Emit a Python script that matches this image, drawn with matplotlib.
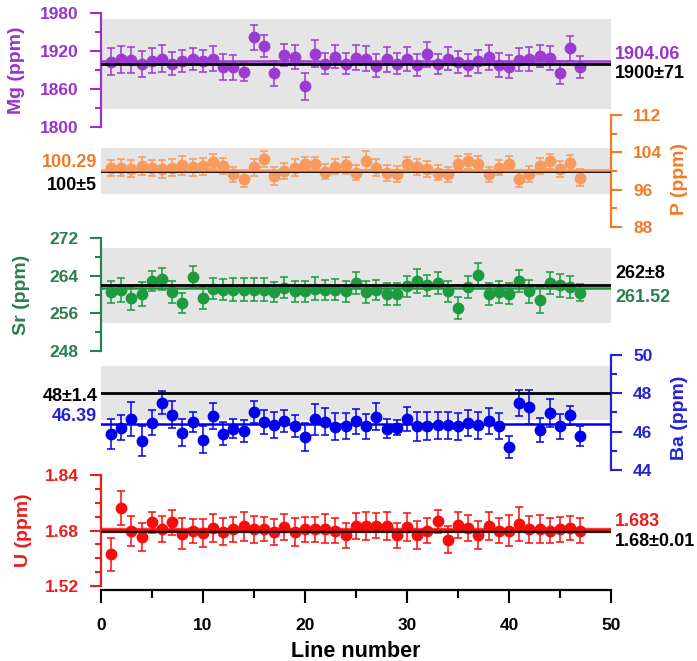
import numpy as np
import matplotlib
matplotlib.use('Agg')
import matplotlib.pyplot as plt

plt.rcParams['font.family'] = ['Liberation Sans', 'DejaVu Sans']
plt.rcParams['font.weight'] = 'bold'

# ---- data ----
line_no = list(range(1, 48))

mg = [1903, 1907, 1906, 1899.5, 1905, 1908, 1900, 1904, 1907, 1904,
      1908, 1895, 1894, 1887, 1941.5, 1928, 1885, 1914, 1911, 1864,
      1916, 1900, 1911, 1900, 1909.5, 1908, 1897, 1907, 1900, 1907,
      1898, 1915, 1899, 1908, 1903, 1898, 1904, 1910, 1898, 1895,
      1906, 1908, 1912, 1909.5, 1886, 1924, 1895]
mg_err = [21, 21, 20, 20, 19, 21, 18, 17, 17, 17,
          20, 20, 19, 14, 20, 18, 20, 17, 19, 21,
          21, 17, 18, 17, 20, 20, 18, 20, 17, 19,
          18, 20, 16, 18, 17, 18, 18, 20, 19, 18,
          18, 19, 18, 19, 18, 20, 17]

p = [100.7, 100.7, 100.5, 101.0, 100.7, 100.5, 100.7, 101.2, 100.8, 101.0,
     102.0, 101.0, 99.3, 98.3, 100.8, 102.5, 99.0, 100.0, 100.7, 101.4,
     101.4, 99.8, 100.9, 101.2, 99.6, 102.2, 100.7, 99.6, 99.3, 101.4,
     100.8, 100.5, 99.6, 99.3, 101.5, 102.1, 101.5, 99.3, 100.7, 101.6,
     98.3, 99.3, 101.0, 102.1, 100.5, 101.7, 98.6]
p_err = [1.7, 1.8, 1.8, 1.9, 1.7, 1.9, 1.8, 2.0, 1.8, 1.8,
         1.6, 1.7, 1.6, 1.7, 1.8, 1.7, 1.9, 1.7, 1.8, 1.6,
         1.7, 1.6, 1.6, 1.8, 1.6, 2.0, 1.8, 1.7, 1.7, 1.6,
         1.7, 1.7, 1.6, 1.6, 1.8, 1.6, 1.7, 1.6, 1.6, 1.6,
         1.7, 1.7, 1.7, 1.6, 1.7, 1.7, 1.8]

sr = [260.6, 261.0, 259.2, 260.2, 262.9, 263.4, 260.6, 258.3, 263.8, 259.3,
      261.3, 261.1, 261.1, 261.1, 261.1, 261.1, 260.6, 261.5, 260.7, 260.7,
      261.3, 261.0, 261.1, 260.7, 262.5, 260.6, 261.0, 260.2, 260.2, 261.8,
      262.9, 262.0, 262.5, 260.7, 257.2, 261.7, 264.3, 260.2, 260.6, 260.2,
      262.9, 260.7, 258.8, 262.5, 262.0, 261.7, 260.4]
sr_err = [2.4, 2.6, 2.5, 2.6, 2.1, 2.3, 2.3, 2.1, 2.3, 2.3,
          2.3, 2.3, 2.4, 2.4, 2.4, 2.4, 2.2, 2.2, 2.2, 2.2,
          2.4, 2.1, 2.3, 2.2, 2.3, 2.3, 2.2, 2.3, 2.3, 2.2,
          2.6, 2.3, 2.3, 2.2, 2.3, 2.4, 2.5, 2.4, 2.3, 2.2,
          2.3, 2.5, 2.8, 2.3, 2.5, 2.4, 1.8]

ba = [45.87, 46.21, 46.65, 45.52, 46.46, 47.50, 46.89, 45.95, 46.51, 45.59,
      46.80, 45.90, 46.16, 46.02, 47.03, 46.51, 46.33, 46.56, 46.30, 45.73,
      46.65, 46.51, 46.25, 46.30, 46.54, 46.28, 46.77, 46.16, 46.21, 46.65,
      46.28, 46.30, 46.33, 46.33, 46.28, 46.46, 46.33, 46.56, 46.30, 45.21,
      47.50, 47.29, 46.07, 46.99, 46.28, 46.86, 45.78]
ba_err = [0.78, 0.66, 0.88, 0.80, 0.66, 0.60, 0.70, 0.70, 0.52, 0.72,
          0.68, 0.62, 0.50, 0.58, 0.56, 0.62, 0.68, 0.56, 0.56, 0.72,
          0.80, 0.70, 0.70, 0.66, 0.66, 0.66, 0.70, 0.50, 0.40, 0.62,
          0.75, 0.72, 0.72, 0.72, 0.70, 0.68, 0.72, 0.68, 0.68, 0.58,
          0.66, 0.90, 0.62, 0.74, 0.64, 0.50, 0.52]

u = [1.611, 1.745, 1.678, 1.661, 1.704, 1.685, 1.704, 1.671, 1.678, 1.673,
     1.688, 1.677, 1.683, 1.692, 1.683, 1.685, 1.675, 1.690, 1.675, 1.683,
     1.683, 1.685, 1.680, 1.666, 1.693, 1.694, 1.694, 1.694, 1.666, 1.690,
     1.666, 1.680, 1.707, 1.654, 1.696, 1.688, 1.668, 1.694, 1.680, 1.680,
     1.699, 1.683, 1.685, 1.680, 1.683, 1.687, 1.680]
u_err = [0.047, 0.048, 0.043, 0.040, 0.030, 0.037, 0.036, 0.044, 0.035, 0.040,
         0.040, 0.038, 0.037, 0.042, 0.040, 0.035, 0.038, 0.037, 0.040, 0.036,
         0.036, 0.042, 0.036, 0.036, 0.037, 0.040, 0.037, 0.040, 0.036, 0.040,
         0.040, 0.035, 0.033, 0.038, 0.037, 0.038, 0.040, 0.040, 0.036, 0.046,
         0.050, 0.040, 0.040, 0.036, 0.035, 0.035, 0.036]

# reference value, uncertainty and measured mean per element
refs = {'Mg': (1900, 71, 1904.06), 'P': (100, 5, 100.29), 'Sr': (262, 8, 261.52),
        'Ba': (48, 1.4, 46.39), 'U': (1.68, 0.01, 1.683)}

mg_ticks = [1800, 1860, 1920, 1980]
p_ticks = [88, 96, 104, 112]
sr_ticks = [248, 256, 264, 272]
ba_ticks = [44, 46, 48, 50]
u_ticks = [1.52, 1.68, 1.84]
x_ticks = [0, 10, 20, 30, 40, 50]

# ---- layout (pixels of the 697x661 picture) ----
W, H = 697, 661
X0, X1 = 100.8, 611.0

fig = plt.figure(figsize=(W / 100, H / 100), dpi=100)

panels = [
    # name, values, errors, ylim, px bottom, px top, side, ticks, minor step, axis colour, point colour, fmt, label x px, label y
    ('Mg', mg, mg_err, (1800, 1980), 127, 13, 'left', mg_ticks, 30, '#9933CC', '#9B3BD3', '%d', 17, 0.5),
    ('P', p, p_err, (88, 112), 227, 115, 'right', p_ticks, 4, '#F07A28', '#F99A5C', '%d', 679, 0.43),
    ('Sr', sr, sr_err, (248, 272), 351, 238.5, 'left', sr_ticks, 4, '#2E7D4F', '#1C9A3E', '%d', 21, 0.5),
    ('Ba', ba, ba_err, (44, 50), 470, 355, 'right', ba_ticks, 1, '#2222D8', '#0000EE', '%d', 679, 0.45),
    ('U', u, u_err, (1.52, 1.84), 586, 475, 'left', u_ticks, 0.04, '#EE1C1C', '#FF0A0A', '%.2f', 24, 0.5),
]

# annotation texts: (text, colour is axis colour or black, side, y value)
notes = {
    'Mg': [('1904.06', True, 'right', 1915), ('1900±71', False, 'right', 1884)],
    'P': [('100.29', True, 'left', 101.8), ('100±5', False, 'left', 97.0)],
    'Sr': [('262±8', False, 'right', 264.6), ('261.52', True, 'right', 259.5)],
    'Ba': [('48±1.4', False, 'left', 47.85), ('46.39', True, 'left', 46.8)],
    'U': [('1.683', True, 'right', 1.707), ('1.68±0.01', False, 'right', 1.648)],
}

axes = []
for (name, vals, errs, ylim, pb, pt, side, ticks, minor, acol, pcol, fmt, lab_x, lab_y) in panels:
    ax = fig.add_axes([X0 / W, 1 - pb / H, (X1 - X0) / W, (pb - pt) / H])
    ax.patch.set_alpha(0)
    ax.set_xlim(0, 50)
    ax.set_ylim(*ylim)

    ref, unc, mean = refs[name]
    ax.axhspan(ref - unc, ref + unc, color='#E5E5E5', zorder=0, lw=0)
    ax.errorbar(line_no, vals, yerr=errs, fmt='o', ms=7.5, color=pcol, ecolor=pcol,
                elinewidth=1.1, capsize=3, capthick=1.1, zorder=2)
    ax.axhline(ref, color='black', lw=2, zorder=3)
    ax.axhline(mean, color=pcol, lw=1.8, zorder=3)

    for s in ['top', 'bottom', 'left', 'right']:
        ax.spines[s].set_visible(False)
    ax.spines[side].set_visible(True)
    ax.spines[side].set_color(acol)
    ax.spines[side].set_linewidth(1.6)

    ax.set_yticks(ticks)
    ax.set_yticks(np.arange(ylim[0], ylim[1] + minor / 2, minor), minor=True)
    ax.set_yticklabels([fmt % t for t in ticks])
    ax.yaxis.set_ticks_position(side)
    ax.tick_params(axis='y', which='both', direction='out', colors=acol, width=1.5,
                   labelsize=12.5, labelcolor=acol)
    ax.tick_params(axis='y', which='major', length=8, pad=8)
    ax.tick_params(axis='y', which='minor', length=4.5)

    ax.yaxis.set_label_position(side)
    ax.set_ylabel(name + ' (ppm)', color=acol, fontsize=14, fontweight='bold')
    ax.yaxis.label.set_verticalalignment('center')
    ax.yaxis.set_label_coords((lab_x - X0) / (X1 - X0), lab_y)

    for txt, own, tside, ty in notes[name]:
        c = acol if own else 'black'
        if tside == 'right':
            ax.text(50.4, ty, txt, color=c, fontsize=13, ha='left', va='center', clip_on=False)
        else:
            ax.text(-0.35, ty, txt, color=c, fontsize=13, ha='right', va='center', clip_on=False)

    if name != 'U':
        ax.xaxis.set_visible(False)
    axes.append(ax)

# x axis on the bottom panel
axb = axes[-1]
axb.spines['bottom'].set_visible(True)
axb.spines['bottom'].set_color('black')
axb.spines['bottom'].set_linewidth(1.6)
axb.spines['bottom'].set_position(('outward', 3))
axb.set_xticks(x_ticks)
axb.set_xticks(np.arange(5, 50, 10), minor=True)
axb.tick_params(axis='x', which='both', direction='out', width=1.5, labelsize=12.5, pad=11)
axb.tick_params(axis='x', which='major', length=9)
axb.tick_params(axis='x', which='minor', length=5.5)
axb.set_xlabel('Line number', fontsize=15.5, fontweight='bold', labelpad=6)

fig.savefig('out.png', dpi=100)
